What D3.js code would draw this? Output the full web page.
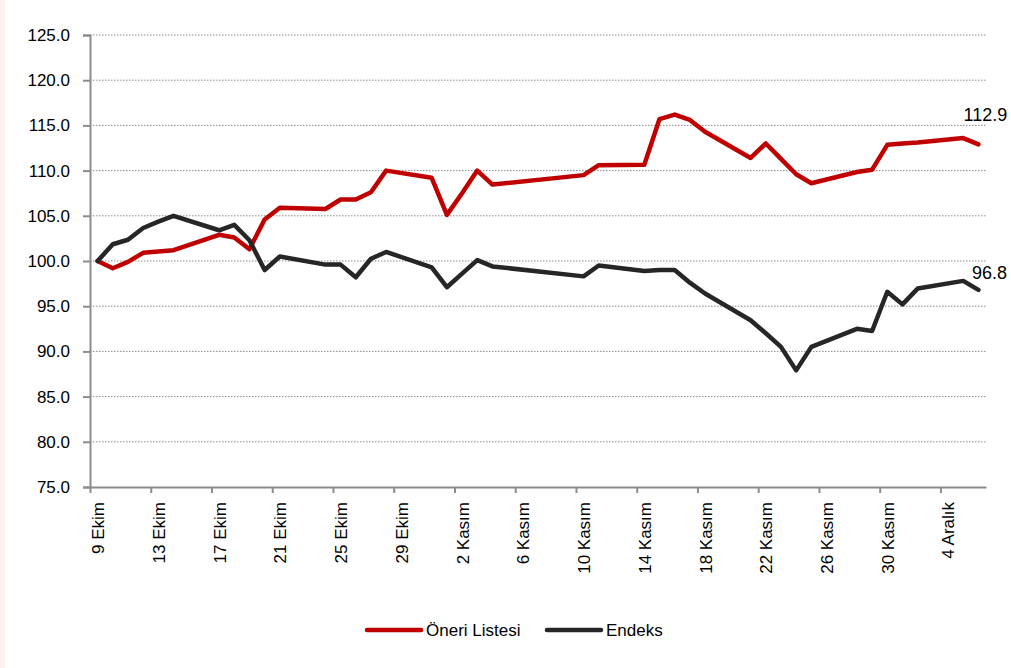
<!DOCTYPE html>
<html>
<head>
<meta charset="utf-8">
<script src="https://cdn.jsdelivr.net/npm/d3@7"></script>
<style>
  body { margin: 0; background: #fff; }
  svg { display: block; font-family: "Liberation Sans", Arial, sans-serif; }
</style>
</head>
<body>
<div id="chart"></div>
<script>
// trading days (2011), base = 9 Ekim
const dates = ["2011-10-09", "2011-10-10", "2011-10-11", "2011-10-12", "2011-10-13", "2011-10-14",
  "2011-10-17", "2011-10-18", "2011-10-19", "2011-10-20", "2011-10-21",
  "2011-10-24", "2011-10-25", "2011-10-26", "2011-10-27", "2011-10-28",
  "2011-10-31", "2011-11-01", "2011-11-02", "2011-11-03", "2011-11-04",
  "2011-11-10", "2011-11-11",
  "2011-11-14", "2011-11-15", "2011-11-16", "2011-11-17", "2011-11-18",
  "2011-11-21", "2011-11-22", "2011-11-23", "2011-11-24", "2011-11-25",
  "2011-11-28", "2011-11-29", "2011-11-30", "2011-12-01", "2011-12-02",
  "2011-12-05", "2011-12-06"]

const oneriListesi = [100, 99.2, 99.9, 100.9, 101.05, 101.2,
  102.9, 102.6, 101.3, 104.6, 105.9,
  105.75, 106.8, 106.8, 107.6, 110.0,
  109.2, 105.1, 107.5, 110.0, 108.45,
  109.5, 110.6,
  110.65, 115.7, 116.2, 115.6, 114.3,
  111.4, 113.0, 111.3, 109.6, 108.6,
  109.85, 110.1, 112.85, 113.0, 113.1,
  113.6, 112.9]

const endeks = [100, 101.85, 102.35, 103.65, 104.35, 105.0,
  103.4, 104.0, 102.3, 99.0, 100.5,
  99.6, 99.6, 98.2, 100.25, 101.0,
  99.3, 97.1, 98.6, 100.1, 99.4,
  98.3, 99.5,
  98.9, 99.0, 99.0, 97.6, 96.4,
  93.45, 92.0, 90.5, 87.9, 90.5,
  92.5, 92.25, 96.6, 95.2, 96.95,
  97.8, 96.8]

const seriesNames = ["Öneri Listesi", "Endeks"]
const seriesColors = ["#C00000", "#262626"]
const monthNames = { 9: "Ekim", 10: "Kasım", 11: "Aralık" }
const yTicks = [75, 80, 85, 90, 95, 100, 105, 110, 115, 120, 125]

const width = 1011
const height = 668
const margin = { top: 35, right: 25, bottom: 181, left: 90 }
const innerWidth = width - margin.left - margin.right
const innerHeight = height - margin.top - margin.bottom

const parse = d3.utcParse("%Y-%m-%d")
const days = dates.map(parse)
const start = parse("2011-10-09")
const end = parse("2011-12-07")

const x = d3.scaleUtc().domain([start, end]).range([0, innerWidth])
const y = d3.scaleLinear().domain([75, 125]).range([innerHeight, 0])
const dayW = x(d3.utcDay.offset(start, 1)) - x(start)
// Excel date axis puts each point in the middle of its day
const xc = d => x(d) + dayW / 2

const svg = d3.select("#chart").append("svg")
  .attr("width", width)
  .attr("height", height)

svg.append("rect").attr("x", 0).attr("y", 0).attr("width", 5).attr("height", height).attr("fill", "#fdf1f1")

const chart = svg.append("g")
  .attr("transform", `translate(${margin.left},${margin.top})`)

// gridlines
chart.append("g")
  .selectAll("line")
  .data(yTicks.filter(t => t > 75))
  .enter()
  .append("line")
  .attr("x1", 0)
  .attr("x2", innerWidth)
  .attr("y1", d => y(d))
  .attr("y2", d => y(d))
  .attr("stroke", "#8c8c8c")
  .attr("stroke-width", 1)
  .attr("stroke-dasharray", "1.5,1.5")

// y axis
const yAxis = d3.axisLeft(y).tickValues(yTicks).tickSize(7).tickFormat(d3.format(".1f"))
const gy = chart.append("g").call(yAxis)
gy.select(".domain").attr("stroke", "#8c8c8c").attr("stroke-width", 2)
gy.selectAll(".tick line").attr("stroke", "#8c8c8c").attr("stroke-width", 2)
gy.selectAll(".tick text")
  .attr("x", -20)
  .attr("fill", "#000")
  .style("font-size", "17px")

// x axis: one tick every 4 days from 9 Ekim
const xTicks = d3.range(0, 59, 4).map(i => d3.utcDay.offset(start, i))
const xAxis = d3.axisBottom(x).tickValues(xTicks).tickSize(6).tickSizeOuter(0)
  .tickFormat(d => d.getUTCDate() + " " + monthNames[d.getUTCMonth()])
const gx = chart.append("g")
  .attr("transform", `translate(0,${innerHeight})`)
  .call(xAxis)
gx.select(".domain").attr("stroke", "#8c8c8c").attr("stroke-width", 2)
gx.selectAll(".tick line").attr("stroke", "#8c8c8c").attr("stroke-width", 2)
gx.selectAll(".tick text")
  .attr("fill", "#000")
  .style("font-size", "17px")
  .attr("text-anchor", "end")
  .attr("transform", `translate(${dayW / 2},15) rotate(-90)`)
  .attr("x", 0)
  .attr("y", 0)
  .attr("dy", "0.35em")

// lines
const line = d3.line()
  .x((d, i) => xc(days[i]))
  .y(d => y(d))

const allSeries = [oneriListesi, endeks]
chart.selectAll(".series")
  .data(allSeries)
  .enter()
  .append("path")
  .attr("class", "series")
  .attr("d", line)
  .attr("fill", "none")
  .attr("stroke", (d, i) => seriesColors[i])
  .attr("stroke-width", 4.5)
  .attr("stroke-linejoin", "round")
  .attr("stroke-linecap", "round")

// end labels
const last = days.length - 1
chart.append("text")
  .attr("x", xc(days[last]) + 7)
  .attr("y", y(oneriListesi[last]) - 23)
  .attr("text-anchor", "middle")
  .style("font-size", "18px")
  .text(d3.format(".1f")(oneriListesi[last]))

chart.append("text")
  .attr("x", xc(days[last]) + 11)
  .attr("y", y(endeks[last]) - 11)
  .attr("text-anchor", "middle")
  .style("font-size", "18px")
  .text(d3.format(".1f")(endeks[last]))

// legend
const legendX = [367, 547]
const legend = svg.selectAll(".legend")
  .data(seriesNames)
  .enter()
  .append("g")
  .attr("class", "legend")
  .attr("transform", (d, i) => `translate(${legendX[i]},630)`)

legend.append("line")
  .attr("x1", 0)
  .attr("x2", 54)
  .attr("stroke", (d, i) => seriesColors[i])
  .attr("stroke-width", 4.5)
  .attr("stroke-linecap", "round")

legend.append("text")
  .attr("x", 59)
  .attr("dy", "0.35em")
  .style("font-size", "17px")
  .text(d => d)
</script>
</body>
</html>
